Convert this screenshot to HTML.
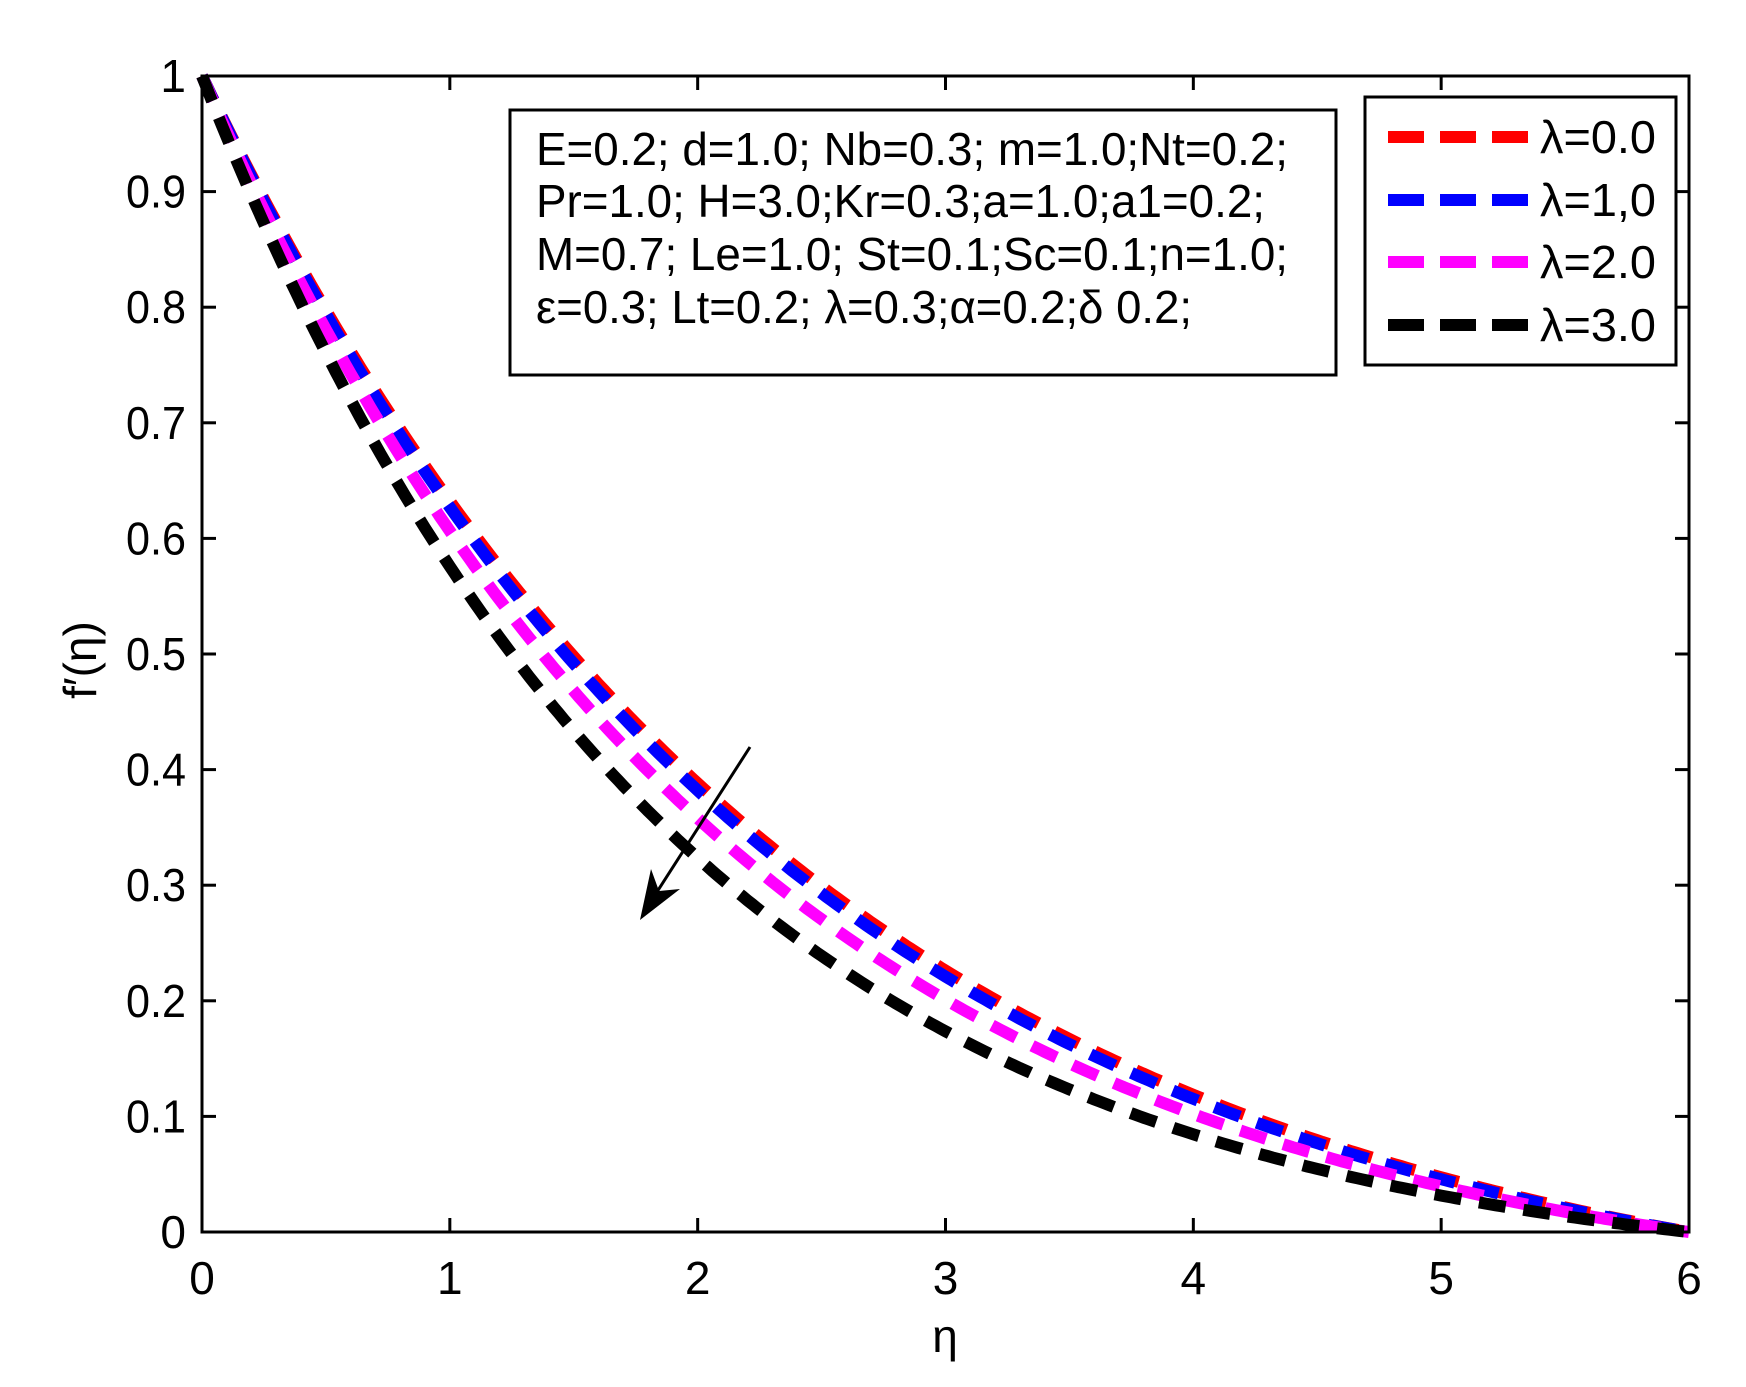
<!DOCTYPE html>
<html><head><meta charset="utf-8"><style>
html,body{margin:0;padding:0;background:#fff}
svg{display:block}
text{font-family:"Liberation Sans",sans-serif;fill:#000}
</style></head><body>
<svg id="s" width="1746" height="1387" viewBox="0 0 1746 1387" xmlns="http://www.w3.org/2000/svg">
<rect width="1746" height="1387" fill="#fff"/>
<g id="curves"></g>
<rect x="202" y="76" width="1487" height="1156" fill="none" stroke="#000" stroke-width="3"/>
<g id="ticks" stroke="#000" stroke-width="3"></g>
<g id="labels" font-size="46"></g>
<text x="945" y="1352" font-size="46" text-anchor="middle">η</text>
<text transform="translate(96,660) rotate(-90)" font-size="46" text-anchor="middle">f′(η)</text>
<line x1="750" y1="747" x2="655" y2="895" stroke="#000" stroke-width="3"/>
<polygon points="640,920 651,869 659,891 680,889" fill="#000"/>
<rect x="510" y="110" width="826" height="265" fill="#fff" stroke="#000" stroke-width="3"/>
<g font-size="46">
<text x="536" y="165" textLength="752" lengthAdjust="spacingAndGlyphs">E=0.2; d=1.0; Nb=0.3; m=1.0;Nt=0.2;</text>
<text x="536" y="217" textLength="729" lengthAdjust="spacingAndGlyphs">Pr=1.0; H=3.0;Kr=0.3;a=1.0;a1=0.2;</text>
<text x="536" y="270" textLength="752" lengthAdjust="spacingAndGlyphs">M=0.7; Le=1.0; St=0.1;Sc=0.1;n=1.0;</text>
<text x="536" y="323" textLength="656" lengthAdjust="spacingAndGlyphs">ε=0.3; Lt=0.2; λ=0.3;α=0.2;δ 0.2;</text>
</g>
<rect x="1365" y="97" width="311" height="268" fill="#fff" stroke="#000" stroke-width="3"/>
<g stroke-width="12" stroke-dasharray="36 16">
<line x1="1388" y1="137" x2="1528" y2="137" stroke="#f00"/>
<line x1="1388" y1="200" x2="1528" y2="200" stroke="#00f"/>
<line x1="1388" y1="262" x2="1528" y2="262" stroke="#f0f"/>
<line x1="1388" y1="325" x2="1528" y2="325" stroke="#000"/>
</g>
<g font-size="46">
<text x="1540" y="153" textLength="116" lengthAdjust="spacingAndGlyphs">λ=0.0</text>
<text x="1540" y="216" textLength="116" lengthAdjust="spacingAndGlyphs">λ=1,0</text>
<text x="1540" y="278" textLength="116" lengthAdjust="spacingAndGlyphs">λ=2.0</text>
<text x="1540" y="341" textLength="116" lengthAdjust="spacingAndGlyphs">λ=3.0</text>
</g>
</svg>
<script>
var X=function(e){return 202+e*1487/6},Y=function(v){return 1232-v*1156};
var ns="http://www.w3.org/2000/svg";
var cs=[[0.41,"#f00"],[0.42,"#00f"],[0.46,"#f0f"],[0.52,"#000"]];
var g=document.getElementById("curves");
cs.forEach(function(c){var k=c[0],e6=Math.exp(-6*k),d="";
for(var i=0;i<=300;i++){var e=i*6/300,v=(Math.exp(-k*e)-e6)/(1-e6);d+=(i?"L":"M")+X(e).toFixed(1)+" "+Y(v).toFixed(1);}
var p=document.createElementNS(ns,"path");p.setAttribute("d",d);p.setAttribute("fill","none");p.setAttribute("stroke",c[1]);
p.setAttribute("stroke-width","12");p.setAttribute("stroke-dasharray","27 18");g.appendChild(p);});
var t=document.getElementById("ticks"),l=document.getElementById("labels");
function ln(a,b,c,d){var e=document.createElementNS(ns,"line");e.setAttribute("x1",a);e.setAttribute("y1",b);e.setAttribute("x2",c);e.setAttribute("y2",d);t.appendChild(e);}
function tx(x,y,s,a,w){var e=document.createElementNS(ns,"text");e.setAttribute("x",x);e.setAttribute("y",y);e.setAttribute("text-anchor",a);if(w){e.setAttribute("textLength",w);e.setAttribute("lengthAdjust","spacingAndGlyphs");}e.textContent=s;l.appendChild(e);}
for(var i=0;i<=6;i++){var x=X(i);ln(x,1232,x,1218);ln(x,76,x,90);tx(x,1294,""+i,"middle");}
for(var j=0;j<=10;j++){var v=j/10,y=Y(v);ln(202,y,216,y);ln(1689,y,1675,y);var s=j==0?"0":j==10?"1":v.toFixed(1);tx(186,y+16,s,"end",s.length>1?60:null);}
</script>
</body></html>
